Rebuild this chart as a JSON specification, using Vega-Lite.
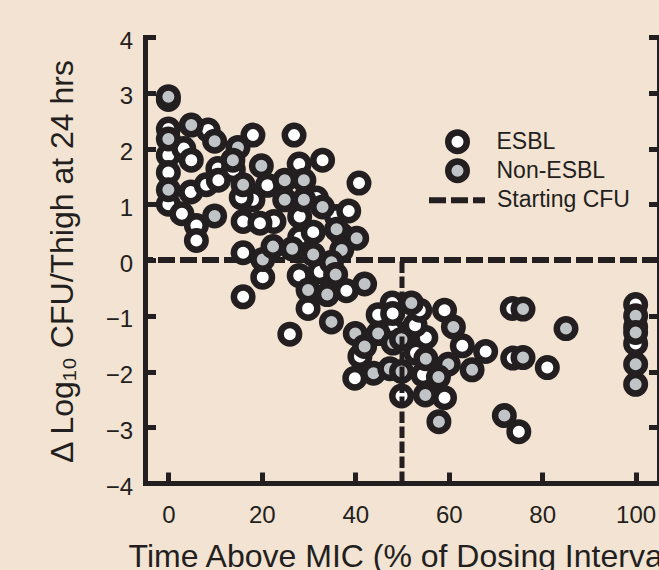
{
  "$schema": "https://vega.github.io/schema/vega-lite/v6.json",
  "width": 514,
  "height": 446,
  "autosize": {"type": "none"},
  "padding": {"left": 145, "top": 37, "right": 0, "bottom": 87},
  "background": "#f2e3d2",
  "config": {"view": {"stroke": null}, "font": "Liberation Sans"},
  "datasets": {
    "points": [
      {"time": 0, "delta": 2.88, "strain": "ESBL"},
      {"time": 0, "delta": 2.35, "strain": "ESBL"},
      {"time": 0, "delta": 1.88, "strain": "ESBL"},
      {"time": 0, "delta": 1.57, "strain": "ESBL"},
      {"time": 0, "delta": 1.0, "strain": "ESBL"},
      {"time": 3.3, "delta": 2.0, "strain": "ESBL"},
      {"time": 4.9, "delta": 1.79, "strain": "ESBL"},
      {"time": 4.8, "delta": 1.22, "strain": "ESBL"},
      {"time": 2.9, "delta": 0.83, "strain": "ESBL"},
      {"time": 8.5, "delta": 2.33, "strain": "ESBL"},
      {"time": 8.1, "delta": 1.35, "strain": "ESBL"},
      {"time": 10.6, "delta": 1.64, "strain": "ESBL"},
      {"time": 10.7, "delta": 1.43, "strain": "ESBL"},
      {"time": 6, "delta": 0.62, "strain": "ESBL"},
      {"time": 6, "delta": 0.35, "strain": "ESBL"},
      {"time": 13.9, "delta": 1.62, "strain": "ESBL"},
      {"time": 18.1, "delta": 2.24, "strain": "ESBL"},
      {"time": 21.2, "delta": 1.34, "strain": "ESBL"},
      {"time": 18.1, "delta": 1.08, "strain": "ESBL"},
      {"time": 15.6, "delta": 1.12, "strain": "ESBL"},
      {"time": 16, "delta": 0.69, "strain": "ESBL"},
      {"time": 22.6, "delta": 0.69, "strain": "ESBL"},
      {"time": 19.6, "delta": 0.66, "strain": "ESBL"},
      {"time": 16, "delta": 0.13, "strain": "ESBL"},
      {"time": 20.2, "delta": -0.31, "strain": "ESBL"},
      {"time": 16, "delta": -0.66, "strain": "ESBL"},
      {"time": 26.9, "delta": 2.24, "strain": "ESBL"},
      {"time": 28, "delta": 1.72, "strain": "ESBL"},
      {"time": 33, "delta": 1.79, "strain": "ESBL"},
      {"time": 40.8, "delta": 1.38, "strain": "ESBL"},
      {"time": 31.7, "delta": 1.11, "strain": "ESBL"},
      {"time": 28.1, "delta": 0.78, "strain": "ESBL"},
      {"time": 36, "delta": 0.78, "strain": "ESBL"},
      {"time": 38.6, "delta": 0.88, "strain": "ESBL"},
      {"time": 28.1, "delta": 0.4, "strain": "ESBL"},
      {"time": 31, "delta": 0.5, "strain": "ESBL"},
      {"time": 28, "delta": -0.28, "strain": "ESBL"},
      {"time": 32.4, "delta": -0.21, "strain": "ESBL"},
      {"time": 38.1, "delta": -0.55, "strain": "ESBL"},
      {"time": 29.9, "delta": -0.87, "strain": "ESBL"},
      {"time": 26, "delta": -1.33, "strain": "ESBL"},
      {"time": 44.9, "delta": -0.98, "strain": "ESBL"},
      {"time": 47.9, "delta": -0.77, "strain": "ESBL"},
      {"time": 41, "delta": -1.73, "strain": "ESBL"},
      {"time": 39.9, "delta": -2.12, "strain": "ESBL"},
      {"time": 59.1, "delta": -0.9, "strain": "ESBL"},
      {"time": 55.1, "delta": -1.39, "strain": "ESBL"},
      {"time": 62.9, "delta": -1.54, "strain": "ESBL"},
      {"time": 67.9, "delta": -1.64, "strain": "ESBL"},
      {"time": 54.5, "delta": -2.06, "strain": "ESBL"},
      {"time": 49.9, "delta": -2.44, "strain": "ESBL"},
      {"time": 59.1, "delta": -2.47, "strain": "ESBL"},
      {"time": 48, "delta": -1.26, "strain": "ESBL"},
      {"time": 52.8, "delta": -1.17, "strain": "ESBL"},
      {"time": 53, "delta": -1.67, "strain": "ESBL"},
      {"time": 48, "delta": -0.96, "strain": "ESBL"},
      {"time": 53.8, "delta": -0.9, "strain": "ESBL"},
      {"time": 73.6, "delta": -0.87, "strain": "ESBL"},
      {"time": 73.7, "delta": -1.76, "strain": "ESBL"},
      {"time": 81.1, "delta": -1.93, "strain": "ESBL"},
      {"time": 75, "delta": -3.08, "strain": "ESBL"},
      {"time": 100, "delta": -0.8, "strain": "ESBL"},
      {"time": 100, "delta": -1.2, "strain": "ESBL"},
      {"time": 100, "delta": -1.5, "strain": "ESBL"},
      {"time": 0, "delta": 2.93, "strain": "Non-ESBL"},
      {"time": 0, "delta": 2.17, "strain": "Non-ESBL"},
      {"time": 0, "delta": 1.26, "strain": "Non-ESBL"},
      {"time": 4.9, "delta": 2.42, "strain": "Non-ESBL"},
      {"time": 9.9, "delta": 2.13, "strain": "Non-ESBL"},
      {"time": 9.9, "delta": 0.79, "strain": "Non-ESBL"},
      {"time": 14.9, "delta": 2.02, "strain": "Non-ESBL"},
      {"time": 13.8, "delta": 1.79, "strain": "Non-ESBL"},
      {"time": 16, "delta": 1.35, "strain": "Non-ESBL"},
      {"time": 19.9, "delta": 1.69, "strain": "Non-ESBL"},
      {"time": 20.2, "delta": 0.01, "strain": "Non-ESBL"},
      {"time": 22.4, "delta": 0.24, "strain": "Non-ESBL"},
      {"time": 24.9, "delta": 1.43, "strain": "Non-ESBL"},
      {"time": 29, "delta": 1.43, "strain": "Non-ESBL"},
      {"time": 24.9, "delta": 1.08, "strain": "Non-ESBL"},
      {"time": 29, "delta": 1.08, "strain": "Non-ESBL"},
      {"time": 33, "delta": 0.95, "strain": "Non-ESBL"},
      {"time": 37.1, "delta": 0.45, "strain": "Non-ESBL"},
      {"time": 36, "delta": 0.55, "strain": "Non-ESBL"},
      {"time": 40.3, "delta": 0.39, "strain": "Non-ESBL"},
      {"time": 37.1, "delta": 0.18, "strain": "Non-ESBL"},
      {"time": 34.9, "delta": -0.04, "strain": "Non-ESBL"},
      {"time": 26.5, "delta": 0.2, "strain": "Non-ESBL"},
      {"time": 31, "delta": 0.1, "strain": "Non-ESBL"},
      {"time": 35.8, "delta": -0.26, "strain": "Non-ESBL"},
      {"time": 29.9, "delta": -0.54, "strain": "Non-ESBL"},
      {"time": 34, "delta": -0.62, "strain": "Non-ESBL"},
      {"time": 42, "delta": -0.43, "strain": "Non-ESBL"},
      {"time": 34.9, "delta": -1.11, "strain": "Non-ESBL"},
      {"time": 40, "delta": -1.32, "strain": "Non-ESBL"},
      {"time": 44.9, "delta": -1.32, "strain": "Non-ESBL"},
      {"time": 42, "delta": -1.55, "strain": "Non-ESBL"},
      {"time": 43.9, "delta": -2.03, "strain": "Non-ESBL"},
      {"time": 47.4, "delta": -1.95, "strain": "Non-ESBL"},
      {"time": 48.1, "delta": -1.49, "strain": "Non-ESBL"},
      {"time": 52, "delta": -0.77, "strain": "Non-ESBL"},
      {"time": 61, "delta": -1.2, "strain": "Non-ESBL"},
      {"time": 55.1, "delta": -1.77, "strain": "Non-ESBL"},
      {"time": 59.9, "delta": -1.87, "strain": "Non-ESBL"},
      {"time": 65, "delta": -1.97, "strain": "Non-ESBL"},
      {"time": 57.8, "delta": -2.1, "strain": "Non-ESBL"},
      {"time": 49.9, "delta": -1.42, "strain": "Non-ESBL"},
      {"time": 49.9, "delta": -2.0, "strain": "Non-ESBL"},
      {"time": 55, "delta": -2.42, "strain": "Non-ESBL"},
      {"time": 57.9, "delta": -2.9, "strain": "Non-ESBL"},
      {"time": 75.9, "delta": -0.88, "strain": "Non-ESBL"},
      {"time": 85.1, "delta": -1.23, "strain": "Non-ESBL"},
      {"time": 75.9, "delta": -1.75, "strain": "Non-ESBL"},
      {"time": 71.9, "delta": -2.79, "strain": "Non-ESBL"},
      {"time": 100, "delta": -1.0, "strain": "Non-ESBL"},
      {"time": 100, "delta": -1.3, "strain": "Non-ESBL"},
      {"time": 100, "delta": -1.87, "strain": "Non-ESBL"},
      {"time": 100, "delta": -2.23, "strain": "Non-ESBL"}
    ],
    "zero": [{"delta": 0, "lab": "Starting CFU"}],
    "cut": [{"time": 50, "lo": -4, "hi": 0}]
  },
  "layer": [
    {
      "data": {"name": "zero"},
      "mark": {"type": "rule", "stroke": "#231f20", "strokeWidth": 6},
      "encoding": {
        "y": {
          "field": "delta", "type": "quantitative",
          "scale": {"domain": [-4, 4], "nice": false},
          "axis": {
            "orient": "right", "values": [-4, -3, -2, -1, 0, 1, 2, 3, 4],
            "labels": false, "title": null, "grid": false,
            "domainColor": "#231f20", "domainWidth": 5, "domainCap": "square",
            "tickColor": "#231f20", "tickWidth": 5, "tickSize": -10.5
          }
        },
        "strokeDash": {
          "field": "lab", "type": "nominal",
          "scale": {"domain": ["Starting CFU"], "range": [[17, 5]]},
          "legend": {
            "orient": "none", "legendX": 281, "legendY": 132.3, "title": null, "padding": 0,
            "symbolType": "stroke", "symbolSize": 3136, "symbolStrokeWidth": 6,
            "symbolStrokeColor": "#231f20", "symbolDash": [17, 5],
            "labelFont": "Liberation Sans", "labelFontSize": 23, "labelColor": "#231f20",
            "labelOffset": 9,
            "encode": {"symbols": {"update": {"stroke": {"value": "#231f20"}, "strokeWidth": {"value": 6}, "strokeDash": {"value": [17, 5]}}}}
          }
        }
      }
    },
    {
      "data": {"name": "points"},
      "mark": {"type": "point", "shape": "circle", "filled": true, "size": 342, "stroke": "#231f20", "strokeWidth": 6.5, "opacity": 1},
      "encoding": {
        "x": {
          "field": "time", "type": "quantitative",
          "scale": {"domain": [-5, 105], "nice": false, "zero": false},
          "axis": {
            "values": [0, 20, 40, 60, 80, 100], "grid": false,
            "domainColor": "#231f20", "domainWidth": 5, "domainCap": "square",
            "tickColor": "#231f20", "tickWidth": 5, "tickSize": -11,
            "labelFont": "Liberation Sans", "labelFontSize": 24, "labelColor": "#231f20",
            "labelPadding": 31.5, "labelFlush": false, "labelOverlap": false,
            "title": "Time Above MIC (% of Dosing Interval)",
            "titleFont": "Liberation Sans", "titleFontSize": 32, "titleFontWeight": "normal",
            "titleColor": "#231f20", "titleX": 259, "titleY": 83,
            "titleAlign": "center", "titleBaseline": "alphabetic"
          }
        },
        "y": {
          "field": "delta", "type": "quantitative",
          "scale": {"domain": [-4, 4], "nice": false},
          "axis": {
            "orient": "left", "values": [-4, -3, -2, -1, 0, 1, 2, 3, 4], "grid": false,
            "domainColor": "#231f20", "domainWidth": 5, "domainCap": "square",
            "tickColor": "#231f20", "tickWidth": 5, "tickSize": -10.5,
            "labelFont": "Liberation Sans", "labelFontSize": 24, "labelColor": "#231f20",
            "labelPadding": 22.8, "labelOffset": 4, "labelFlush": false, "labelOverlap": false,
            "title": "Δ Log₁₀ CFU/Thigh at 24 hrs",
            "titleFont": "Liberation Sans", "titleFontSize": 32, "titleFontWeight": "normal",
            "titleColor": "#231f20", "titleX": -73, "titleY": 224, "titleAngle": 270,
            "titleAlign": "center", "titleBaseline": "alphabetic"
          }
        },
        "fill": {
          "field": "strain", "type": "nominal",
          "scale": {"domain": ["ESBL", "Non-ESBL"], "range": ["#ffffff", "#c1c4c6"]},
          "legend": {
            "orient": "none", "legendX": 300, "legendY": 90.5, "title": null, "padding": 0,
            "symbolType": "circle", "symbolSize": 342, "symbolStrokeColor": "#231f20", "symbolStrokeWidth": 6.5, "symbolOpacity": 1,
            "labelFont": "Liberation Sans", "labelFontSize": 23, "labelColor": "#231f20",
            "labelOffset": 26.5, "rowPadding": 0, "clipHeight": 28.3,
            "encode": {"symbols": {"update": {"stroke": {"value": "#231f20"}, "strokeWidth": {"value": 6.5}}}}
          }
        }
      }
    },
    {
      "data": {"name": "cut"},
      "mark": {"type": "rule", "stroke": "#231f20", "strokeWidth": 5, "strokeDash": [11.5, 3.5]},
      "encoding": {
        "x": {"field": "time", "type": "quantitative"},
        "y": {"field": "lo", "type": "quantitative", "axis": null},
        "y2": {"field": "hi"}
      }
    }
  ],
  "resolve": {"axis": {"y": "independent"}}
}
